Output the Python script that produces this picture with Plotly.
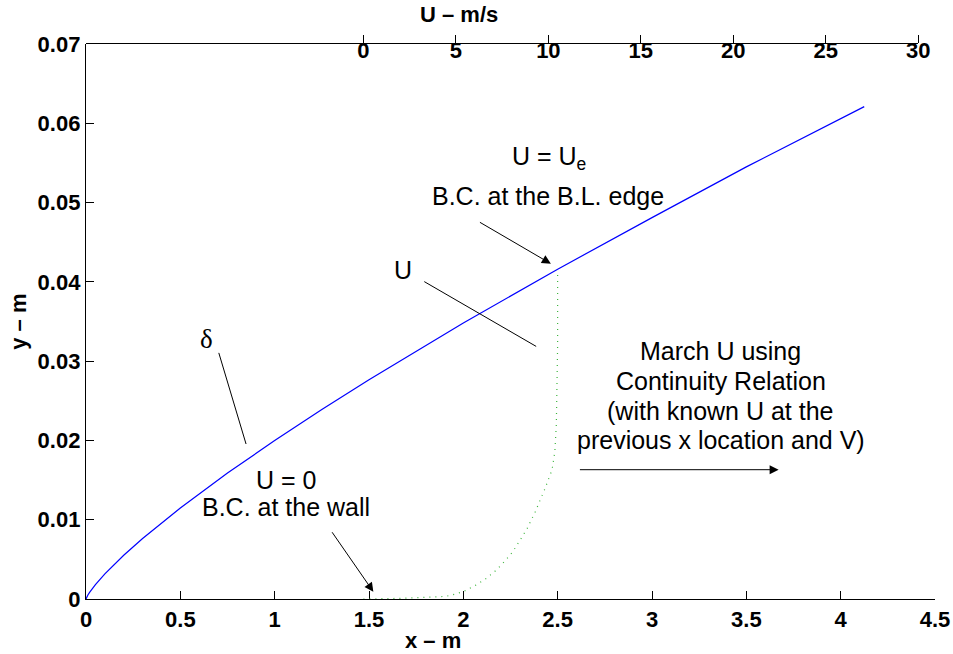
import plotly.graph_objects as go

# boundary-layer thickness delta(x)
x_delta = [0, 0.005, 0.01, 0.02, 0.035, 0.05, 0.1, 0.15, 0.2, 0.3, 0.4, 0.5, 0.75, 1.0,
           1.25, 1.5, 2.0, 2.5, 3.0, 3.5, 4.125]
delta = [0, 0.00029, 0.0005, 0.00087, 0.00137, 0.00182, 0.00317, 0.00438, 0.00552, 0.00763,
         0.0096, 0.01148, 0.01588, 0.01998, 0.02389, 0.02764, 0.0348, 0.0416, 0.0481, 0.0545, 0.0621]

# velocity profile U(y) at x = 2.5 m (top axis, m/s)
U_prof = [0, 1.0, 2.0, 3.2, 4.43, 4.79, 5.42, 6.05, 6.65, 7.19, 7.67, 8.09, 8.48, 8.84,
          9.29, 9.56, 9.83, 10.2, 10.35, 10.43, 10.47, 10.5, 10.5]
y_prof = [0, 0.00002, 0.00008, 0.0002, 0.00033, 0.0005, 0.00096, 0.00172, 0.0026, 0.00366,
          0.00483, 0.0060, 0.00748, 0.00883, 0.0110, 0.0125, 0.0140, 0.0163, 0.0186, 0.022,
          0.026, 0.032, 0.0415]

x_ticks = [0, 0.5, 1, 1.5, 2, 2.5, 3, 3.5, 4, 4.5]
y_ticks = [0, 0.01, 0.02, 0.03, 0.04, 0.05, 0.06, 0.07]
u_ticks = [0, 5, 10, 15, 20, 25, 30]

FONT = "Liberation Sans, Arial, Helvetica, sans-serif"
SERIF = "Liberation Serif, Times New Roman, serif"

fig = go.Figure()
fig.add_trace(go.Scatter(x=U_prof, y=y_prof, mode="lines", xaxis="x2", yaxis="y2",
                         line=dict(color="rgb(60,180,60)", width=1.2, dash="1px,5px"),
                         showlegend=False))
fig.add_trace(go.Scatter(x=x_delta, y=delta, mode="lines",
                         line=dict(color="rgb(0,0,255)", width=1.2), showlegend=False))

tickfont = dict(family=FONT, size=22, color="black", weight="bold")

fig.update_layout(
    width=953, height=654,
    margin=dict(l=86, r=18, t=44, b=55, autoexpand=False),
    paper_bgcolor="white", plot_bgcolor="rgba(0,0,0,0)",
    xaxis=dict(range=[0, 4.5], tickvals=x_ticks, ticks="inside", ticklen=8, tickwidth=1,
               tickcolor="black", showline=True, linecolor="black", linewidth=1.3,
               showgrid=False, zeroline=False, tickfont=tickfont, fixedrange=True,
               automargin=False),
    yaxis=dict(range=[0, 0.07], tickvals=y_ticks, ticks="inside", ticklen=8, tickwidth=1,
               tickcolor="black", showline=True, linecolor="black", linewidth=1.3,
               showgrid=False, zeroline=False, tickfont=tickfont, fixedrange=True,
               automargin=False),
    xaxis2=dict(range=[-15, 30], domain=[0, 0.9803], anchor="y2", side="top",
                tickvals=u_ticks, ticks="outside", ticklen=8, tickwidth=1, tickcolor="black",
                ticklabelposition="inside", ticklabeloverflow="allow",
                showline=True, linecolor="black", linewidth=1.3,
                showgrid=False, zeroline=False, tickfont=tickfont, fixedrange=True,
                automargin=False),
    yaxis2=dict(range=[0, 0.07], domain=[0, 1], anchor="x2", visible=False, fixedrange=True),
)

ann_font = dict(family=FONT, size=25, color="black")
delta_font = dict(family=SERIF, size=27, color="black")
title_font = dict(family=FONT, size=22, color="black", weight="bold")

texts = [
    ("U = U<sub>e</sub>", 2.455, 0.0556, ann_font),
    ("B.C. at the B.L. edge", 2.447, 0.05078, ann_font),
    ("U", 1.682, 0.04153, ann_font),
    ("δ", 0.640, 0.03279, delta_font),
    ("U = 0", 1.060, 0.01505, ann_font),
    ("B.C. at the wall", 1.060, 0.01165, ann_font),
    ("March U using", 3.364, 0.03123, ann_font),
    ("Continuity Relation", 3.364, 0.02744, ann_font),
    ("(with known U at the", 3.364, 0.02366, ann_font),
    ("previous x location and V)", 3.364, 0.02009, ann_font),
]
for t, x, y, f in texts:
    fig.add_annotation(x=x, y=y, xref="x", yref="y", text=t, showarrow=False,
                       font=f, xanchor="center", yanchor="middle")

# pointers: (tip x, tip y, tail x, tail y, head)
pointers = [
    (2.464, 0.04229, 2.080, 0.04762, 2),
    (1.523, 0.00092, 1.299, 0.00861, 2),
    (3.671, 0.01631, 2.610, 0.01631, 2),
    (2.386, 0.03186, 1.785, 0.04014, 0),
    (0.8484, 0.01955, 0.7015, 0.03123, 0),
]
for tx, ty, sx, sy, head in pointers:
    fig.add_annotation(x=tx, y=ty, ax=sx, ay=sy, xref="x", yref="y", axref="x", ayref="y",
                       text="", showarrow=True, arrowhead=head, arrowsize=1.8,
                       arrowwidth=1, arrowcolor="black", standoff=0, startstandoff=0)

fig.add_annotation(x=0.4087, y=-0.0751, xref="paper", yref="paper", text="x – m",
                   showarrow=False, font=title_font, xanchor="center", yanchor="middle")
fig.add_annotation(x=0.4393, y=1.0528, xref="paper", yref="paper", text="U – m/s",
                   showarrow=False, font=title_font, xanchor="center", yanchor="middle")
fig.add_annotation(x=-0.0789, y=0.4996, xref="paper", yref="paper", text="y – m",
                   showarrow=False, font=title_font, xanchor="center", yanchor="middle",
                   textangle=-90)

fig.write_html("out.html")
